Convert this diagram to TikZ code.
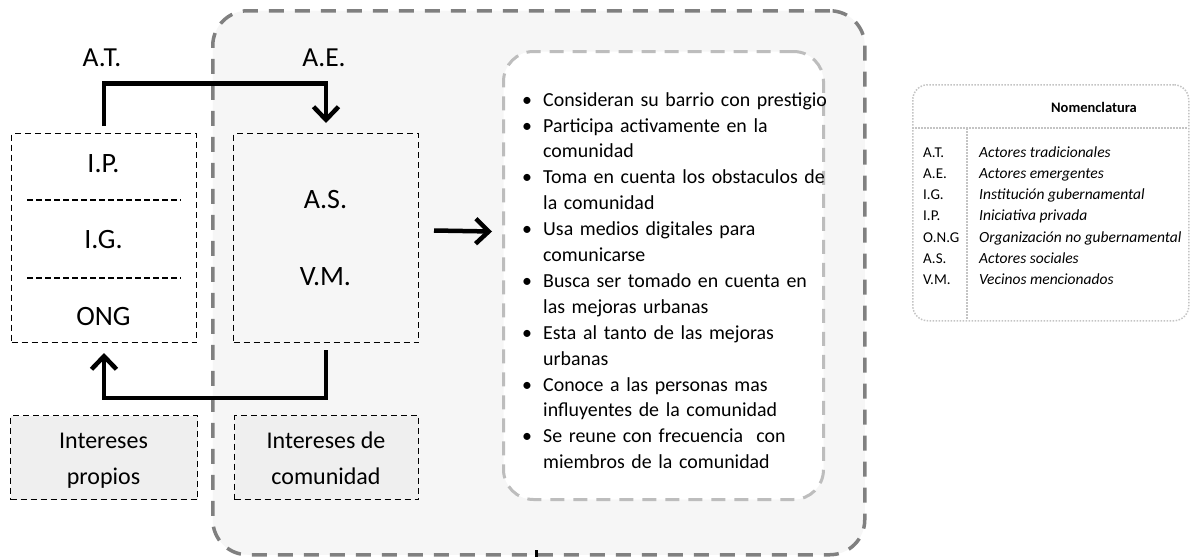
\documentclass[tikz,border=0pt]{standalone}
\usepackage{fontspec}
\setmainfont{Carlito}
\usetikzlibrary{arrows.meta}
\definecolor{outerfill}{HTML}{F6F6F6}
\definecolor{outerline}{HTML}{808080}
\definecolor{innerline}{HTML}{BDBDBD}
\definecolor{boxfill}{HTML}{EFEFEF}
\definecolor{nomline}{HTML}{C4C4C4}
\newcommand{\bitem}[1]{\par\hangindent=21pt\hangafter=1\noindent\makebox[21pt][l]{•}#1\par}
\begin{document}
\begin{tikzpicture}[x=1pt,y=-1pt,
  outerbox/.style={draw=outerline, line width=3.5pt, dash pattern=on 15pt off 11pt, fill=outerfill, rounded corners=35pt, inner sep=0pt, anchor=north west},
  innerbox/.style={draw=innerline, line width=3pt, dash pattern=on 14pt off 9pt, fill=white, rounded corners=30pt, inner sep=0pt, anchor=north west},
  thinbox/.style={draw=black, line width=1pt, dash pattern=on 6pt off 4pt, inner sep=0pt, anchor=north west},
  nombox/.style={draw=nomline, line width=1.5pt, dash pattern=on 1.5pt off 1.5pt, rounded corners=15pt, inner sep=0pt, anchor=north west},
  nomrule/.style={draw=nomline, line width=1.5pt, dash pattern=on 1.5pt off 1.5pt},
  divider/.style={draw=black, line width=1.3pt, dash pattern=on 6pt off 3pt},
  biglabel/.style={font=\fontsize{28}{34}\selectfont, anchor=base, inner sep=0pt},
  toplabel/.style={font=\fontsize{27.5}{32}\selectfont, anchor=base, inner sep=0pt},
  interes/.style={font=\fontsize{24}{36}\selectfont, align=center, anchor=north, inner sep=0pt},
  conn/.style={line width=4.5pt, -{Straight Barb[length=13pt, width=25pt]}},
]
\useasboundingbox (0,0) rectangle (1190,557);
\fill[white] (0,0) rectangle (1190,557);

% big community frame
\node[outerbox, minimum width=652pt, minimum height=544pt] (outer) at (211,9) {};
% bullet box
\node[innerbox, minimum width=320pt, minimum height=448pt] (inner) at (502,50) {};

% actor boxes
\node[thinbox, minimum width=185pt, minimum height=209pt] (lbox) at (11,133) {};
\node[thinbox, minimum width=185pt, minimum height=209pt] (mbox) at (233,133) {};
\draw[divider] (27,200) -- (181,200);
\draw[divider] (27,278) -- (181,278);

\node[biglabel] (ip) at (103.5,172) {I.P.};
\node[biglabel] (ig) at (103.5,248) {I.G.};
\node[biglabel] (ong) at (103.5,325) {ONG};
\node[biglabel] (as) at (325.5,208) {A.S.};
\node[biglabel] (vm) at (325.5,285) {V.M.};

\node[toplabel] (at) at (102,66) {A.T.};
\node[toplabel] (ae) at (324,66) {A.E.};

% interest boxes
\node[thinbox, fill=boxfill, minimum width=187pt, minimum height=84pt] (ipbox) at (10,415) {};
\node[thinbox, fill=boxfill, minimum width=184pt, minimum height=84pt] (icbox) at (234,415) {};
\node[interes] (iptext) at (103.5,428) {\rule{0pt}{20pt}Intereses\\propios};
\node[interes] (ictext) at (326,428) {\rule{0pt}{20pt}Intereses de\\comunidad};

% connectors
\draw[conn] ([yshift=7pt]lbox.north) -- ([yshift=49.5pt]lbox.north) -| ([yshift=10pt]mbox.north);
\draw[conn] ([yshift=-7pt]mbox.south) -- ([yshift=-55pt]mbox.south) -| ([yshift=-10pt]lbox.south);
\draw[conn] ([xshift=15pt,yshift=7.5pt]mbox.east) -- ([xshift=-10pt,yshift=44pt]inner.west);

% bullet list
\node[anchor=north west, inner sep=0pt, text width=320pt,
      font=\fontsize{19.9}{25.9}\selectfont] (list) at (522,80) {%
\raggedright\parindent=0pt\parskip=0pt
\bitem{\rule{0pt}{20pt}Consideran su barrio con prestigio}
\bitem{Participa activamente en la\newline comunidad}
\bitem{Toma en cuenta los obstaculos de\newline la comunidad}
\bitem{Usa medios digitales para\newline comunicarse}
\bitem{Busca ser tomado en cuenta en\newline las mejoras urbanas}
\bitem{Esta al tanto de las mejoras\newline urbanas}
\bitem{Conoce a las personas mas\newline influyentes de la comunidad}
\bitem{Se reune con frecuencia\ \ con\newline miembros de la comunidad}};

% nomenclature
\node[nombox, minimum width=276pt, minimum height=236pt] (nom) at (912,84) {};
\draw[nomrule] (912,128) -- (1188,128);
\draw[nomrule] (967,128) -- (967,320);
\node[font=\bfseries\fontsize{14.5}{17}\selectfont, anchor=base, inner sep=0pt] (nomtitle) at (1094,112) {Nomenclatura};
\node[anchor=north west, inner sep=0pt, align=left, font=\fontsize{15}{21.2}\selectfont] (abbr) at (923,142)
  {\rule{0pt}{15pt}A.T.\\A.E.\\I.G.\\I.P.\\O.N.G\\A.S.\\V.M.};
\node[anchor=north west, inner sep=0pt, align=left, font=\itshape\fontsize{15.5}{21.2}\selectfont] (desc) at (979,142)
  {\rule{0pt}{15pt}Actores tradicionales\\Actores emergentes\\Institución gubernamental\\Iniciativa privada\\Organización no gubernamental\\Actores sociales\\Vecinos mencionados};

% small mark at the bottom edge
\fill[black] (535,550) rectangle (538,557);
\end{tikzpicture}
\end{document}
